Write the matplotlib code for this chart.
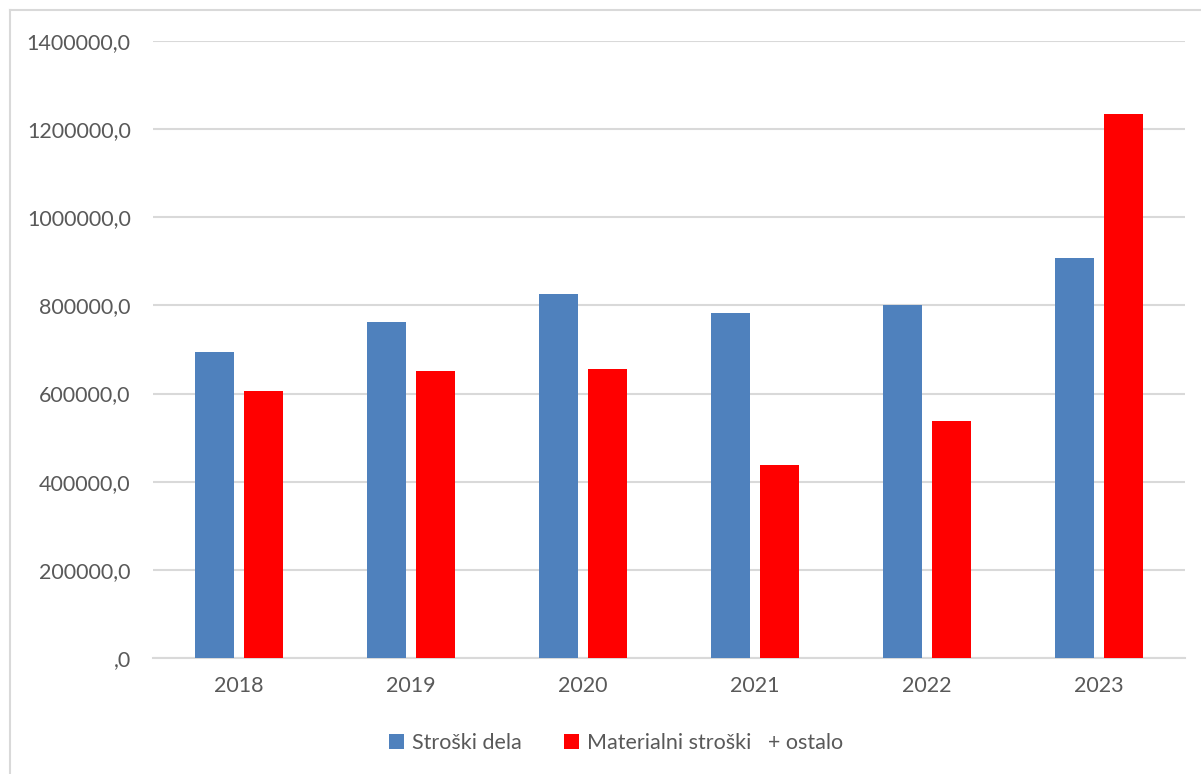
import matplotlib
matplotlib.use("Agg")
import matplotlib.pyplot as plt
from matplotlib.lines import Line2D
from matplotlib.ticker import FuncFormatter
import numpy as np

years = ["2018", "2019", "2020", "2021", "2022", "2023"]
stroski_dela = [694000, 763000, 826000, 782000, 801000, 908000]
materialni = [606000, 651000, 656000, 438000, 538000, 1235000]
series_names = ["Stroški dela", "Materialni stroški   + ostalo"]
yticks = [0, 200000, 400000, 600000, 800000, 1000000, 1200000, 1400000]

plt.rcParams['font.family'] = ['Lato', 'DejaVu Sans']
txt = '#595959'
grid = '#d9d9d9'
blue = '#4f81bd'
red = '#ff0000'

W, H = 1201, 774
fig = plt.figure(figsize=(W / 100, H / 100), dpi=100)
ax = fig.add_axes([153 / W, 1 - 658 / H, (1185 - 153) / W, (658 - 41) / H])

x = np.arange(len(years))
bw = 0.227
off = 0.145
ax.bar(x - off, stroski_dela, bw, color=blue, label=series_names[0], zorder=3)
ax.bar(x + off, materialni, bw, color=red, label=series_names[1], zorder=3)

ax.set_xlim(-0.5, len(years) - 0.5)
ax.set_ylim(0, 1400000)
ax.set_yticks(yticks)

def fmt(v, pos):
    if v == 0:
        return ",0"
    return f"{int(v)},0"

ax.yaxis.set_major_formatter(FuncFormatter(fmt))
ax.set_xticks(x)
ax.set_xticklabels(years)
ax.yaxis.grid(True, color=grid, linewidth=1.5, zorder=0)
ax.set_axisbelow(True)
for s in ['top', 'right', 'left']:
    ax.spines[s].set_visible(False)
ax.spines['bottom'].set_color(grid)
ax.spines['bottom'].set_linewidth(1.5)
ax.tick_params(axis='both', length=0, colors=txt, labelsize=15.5)
ax.tick_params(axis='y', pad=16)
ax.tick_params(axis='x', pad=13)

leg = fig.legend(loc='center', bbox_to_anchor=(616 / W, 1 - 743 / H), ncol=2,
                 frameon=False, fontsize=15.5, handlelength=0.7, handleheight=0.7,
                 handletextpad=0.35, columnspacing=2.0, labelcolor=txt)

# chart border (left and top visible)
fig.add_artist(Line2D([10 / W, 10 / W], [0, 1 - 10 / H], transform=fig.transFigure,
                      color=grid, linewidth=1.5))
fig.add_artist(Line2D([10 / W, 1], [1 - 10 / H, 1 - 10 / H], transform=fig.transFigure,
                      color=grid, linewidth=1.5))

fig.savefig("out.png", dpi=100, facecolor='white')
